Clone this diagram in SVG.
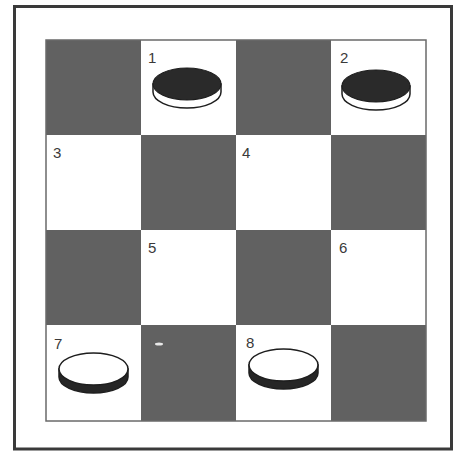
<svg xmlns="http://www.w3.org/2000/svg" width="463" height="453" viewBox="0 0 463 453">
<style>
.dark{fill:#616161;}
.light{fill:#ffffff;}
.lbl{font-family:"Liberation Sans",Arial,sans-serif;font-size:15px;fill:#3a3a3a;}
.rimw{fill:#ffffff;stroke:#1e1e1e;stroke-width:1.5;}
.topb{fill:#2a2a2a;stroke:#1e1e1e;stroke-width:1.2;}
.rimb{fill:#262626;stroke:#1e1e1e;stroke-width:1.5;}
.topw{fill:#ffffff;stroke:#1e1e1e;stroke-width:1.5;}
</style>
<rect x="0" y="0" width="463" height="453" fill="#ffffff"/>
<rect id="frame" x="14.5" y="6.5" width="437" height="442.5" fill="none" stroke="#3a3a3a" stroke-width="3"/>
<g id="board">
<g id="sq-a"><rect class="dark" x="46" y="40" width="95" height="95"/></g>
<g id="sq-1"><rect class="light" x="141" y="40" width="95" height="95"/><text class="lbl" x="148" y="63">1</text></g>
<g id="sq-b"><rect class="dark" x="236" y="40" width="95" height="95"/></g>
<g id="sq-2"><rect class="light" x="331" y="40" width="95" height="95"/><text class="lbl" x="340" y="63">2</text></g>
<g id="sq-3"><rect class="light" x="46" y="135" width="95" height="95"/><text class="lbl" x="53" y="158">3</text></g>
<g id="sq-c"><rect class="dark" x="141" y="135" width="95" height="95"/></g>
<g id="sq-4"><rect class="light" x="236" y="135" width="95" height="95"/><text class="lbl" x="242" y="158">4</text></g>
<g id="sq-d"><rect class="dark" x="331" y="135" width="95" height="95"/></g>
<g id="sq-e"><rect class="dark" x="46" y="230" width="95" height="95"/></g>
<g id="sq-5"><rect class="light" x="141" y="230" width="95" height="95"/><text class="lbl" x="148" y="253">5</text></g>
<g id="sq-f"><rect class="dark" x="236" y="230" width="95" height="95"/></g>
<g id="sq-6"><rect class="light" x="331" y="230" width="95" height="95"/><text class="lbl" x="339" y="253">6</text></g>
<g id="sq-7"><rect class="light" x="46" y="325" width="95" height="96"/><text class="lbl" x="54" y="349">7</text></g>
<g id="sq-g"><rect class="dark" x="141" y="325" width="95" height="96"/><ellipse cx="159" cy="344" rx="4" ry="1.5" fill="#e8e8e8"/></g>
<g id="sq-8"><rect class="light" x="236" y="325" width="95" height="96"/><text class="lbl" x="246" y="348">8</text></g>
<g id="sq-h"><rect class="dark" x="331" y="325" width="95" height="96"/></g>
<rect x="46" y="40" width="380" height="381" fill="none" stroke="#6a6a6a" stroke-width="1.5"/>
</g>
<g id="piece-1">
<path class="rimw" d="M153 84 L153 92 A34 16 0 0 0 221 92 L221 84 Z"/>
<ellipse class="topb" cx="187" cy="84" rx="34" ry="16"/>
</g>
<g id="piece-2">
<path class="rimw" d="M342 86 L342 94 A34 16 0 0 0 410 94 L410 86 Z"/>
<ellipse class="topb" cx="376" cy="86" rx="34" ry="16"/>
</g>
<g id="piece-7">
<path class="rimb" d="M59 369 L59 377 A34.5 16 0 0 0 128 377 L128 369 Z"/>
<ellipse class="topw" cx="93.5" cy="369" rx="34.5" ry="16"/>
</g>
<g id="piece-8">
<path class="rimb" d="M249 365 L249 373 A34.5 16 0 0 0 318 373 L318 365 Z"/>
<ellipse class="topw" cx="283.5" cy="365" rx="34.5" ry="16"/>
</g>
</svg>
